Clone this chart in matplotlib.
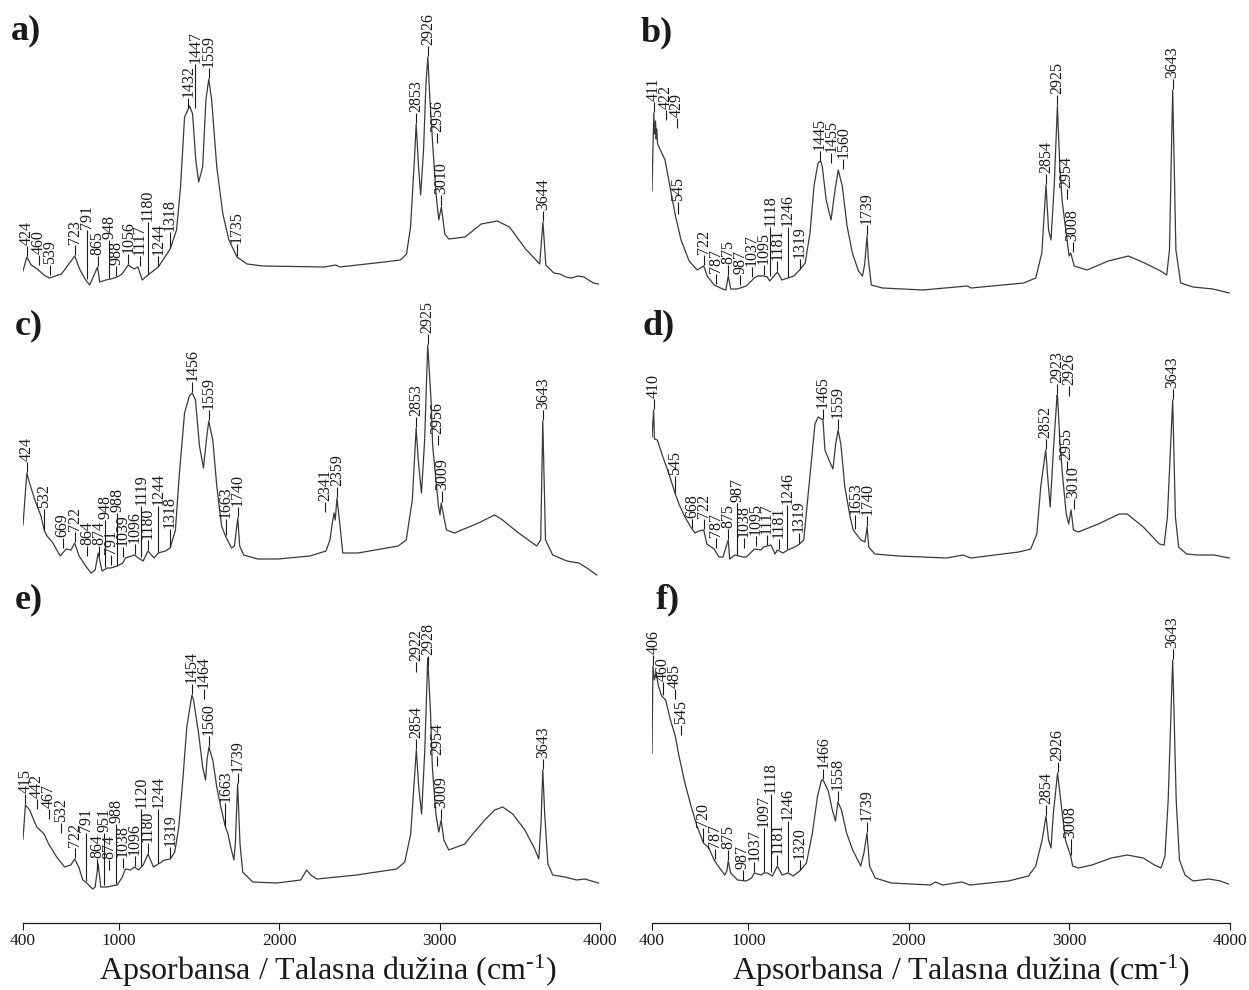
import numpy as np
import matplotlib
matplotlib.use("Agg")
import matplotlib.pyplot as plt

plt.rcParams['font.family'] = 'Liberation Serif'
plt.rcParams['mathtext.fontset'] = 'custom'
plt.rcParams['mathtext.rm'] = 'Liberation Serif'
plt.rcParams['mathtext.it'] = 'Liberation Serif:italic'
plt.rcParams['mathtext.bf'] = 'Liberation Serif:bold'

# ---------------- spectra: wavenumber (cm-1) and relative absorbance ----------------
a_wn = [400, 424, 451, 460, 489, 539, 565, 640, 723, 753, 791, 816, 865, 879, 917, 948, 988, 1018,
        1056, 1093, 1117, 1144, 1180, 1244, 1318, 1358, 1383, 1408, 1440, 1458, 1478, 1496, 1521,
        1541, 1559, 1577, 1609, 1647, 1685, 1735, 1798, 1899, 2277, 2352, 2377, 2654, 2755, 2793,
        2818, 2843, 2853, 2868, 2881, 2899, 2914, 2926, 2939, 2956, 2977, 2994, 3010, 3032, 3057,
        3158, 3259, 3359, 3435, 3536, 3624, 3644, 3662, 3712, 3750, 3787, 3820, 3863, 3900, 3938,
        3960, 3989]
a_abs = [-0.04, 0.10, 0.02, 0.01, -0.02, -0.09, -0.11, -0.07, 0.11, -0.02, -0.13, -0.18, 0.00,
         -0.15, -0.13, -0.12, -0.10, -0.07, 0.02, -0.02, 0.00, -0.13, -0.08, 0.00, 0.18, 0.37, 0.80,
         1.50, 1.61, 1.53, 1.07, 0.85, 1.00, 1.67, 1.88, 1.67, 1.00, 0.53, 0.27, 0.10, 0.03, 0.01,
         0.00, 0.02, 0.00, 0.05, 0.07, 0.13, 0.40, 1.10, 1.43, 1.00, 0.72, 1.17, 1.83, 2.10, 1.67,
         1.23, 0.73, 0.47, 0.60, 0.33, 0.28, 0.30, 0.43, 0.46, 0.40, 0.18, 0.03, 0.45, 0.02, -0.06,
         -0.07, -0.10, -0.11, -0.09, -0.10, -0.14, -0.16, -0.17]
a_peaks = [424, 460, 539, 723, 791, 865, 948, 988, 1056, 1117, 1180, 1244, 1318, 1432, 1447, 1559,
           1735, 2853, 2926, 2956, 3010, 3644]

b_wn = [400, 411, 416, 422, 426, 429, 435, 481, 545, 581, 631, 682, 722, 744, 787, 840, 860, 875,
        890, 930, 987, 1037, 1058, 1095, 1118, 1133, 1181, 1209, 1246, 1284, 1319, 1354, 1384, 1409,
        1434, 1450, 1460, 1485, 1515, 1540, 1560, 1585, 1615, 1648, 1686, 1711, 1725, 1739, 1748,
        1766, 1836, 2087, 2363, 2388, 2715, 2790, 2828, 2854, 2870, 2885, 2905, 2925, 2940, 2954,
        2985, 2998, 3008, 3030, 3110, 3242, 3367, 3468, 3568, 3606, 3623, 3643, 3663, 3693, 3769,
        3894, 3995]
b_abs = [0.98, 1.76, 1.55, 1.68, 1.50, 1.60, 1.45, 1.29, 0.74, 0.49, 0.28, 0.19, 0.23, 0.13, 0.04,
         0.00, -0.01, 0.13, 0.00, 0.00, 0.03, 0.11, 0.13, 0.13, 0.12, 0.08, 0.17, 0.09, 0.11, 0.13,
         0.19, 0.26, 0.56, 1.03, 1.26, 1.28, 1.23, 0.89, 0.69, 0.99, 1.19, 1.03, 0.63, 0.36, 0.18,
         0.13, 0.25, 0.53, 0.29, 0.04, 0.01, -0.01, 0.03, 0.01, 0.06, 0.11, 0.36, 1.04, 0.59, 0.49,
         1.03, 1.83, 1.23, 0.89, 0.49, 0.33, 0.36, 0.23, 0.19, 0.28, 0.33, 0.26, 0.18, 0.14, 0.39,
         1.99, 0.39, 0.06, 0.02, 0.00, -0.04]
b_peaks = [411, 422, 429, 545, 722, 787, 875, 987, 1037, 1095, 1118, 1181, 1246, 1319, 1445, 1455,
           1560, 1739, 2854, 2925, 2954, 3008, 3643]

c_wn = [400, 424, 437, 474, 512, 532, 550, 587, 632, 669, 700, 722, 750, 791, 825, 850, 869, 893,
        925, 948, 988, 1023, 1039, 1096, 1119, 1150, 1180, 1218, 1244, 1288, 1318, 1351, 1376, 1408,
        1438, 1456, 1476, 1501, 1526, 1544, 1559, 1584, 1609, 1639, 1663, 1701, 1719, 1740, 1752,
        1777, 1864, 1990, 2190, 2290, 2315, 2330, 2341, 2348, 2359, 2378, 2395, 2490, 2741, 2791,
        2829, 2853, 2866, 2886, 2906, 2925, 2946, 2956, 2992, 3002, 3009, 3042, 3092, 3242, 3342,
        3392, 3492, 3605, 3630, 3643, 3660, 3705, 3793, 3868, 3918, 3980]
c_abs = [0.33, 0.85, 0.77, 0.58, 0.42, 0.28, 0.22, 0.15, 0.02, 0.09, 0.08, 0.15, 0.02, -0.08,
         -0.15, -0.12, 0.05, -0.13, -0.10, -0.10, -0.08, -0.05, 0.00, 0.03, 0.00, -0.03, 0.07, 0.00,
         0.05, 0.07, 0.10, 0.28, 0.85, 1.45, 1.62, 1.65, 1.58, 1.12, 0.90, 1.18, 1.37, 1.18, 0.72,
         0.32, 0.22, 0.10, 0.12, 0.40, 0.12, 0.03, -0.01, -0.01, 0.02, 0.07, 0.18, 0.35, 0.45, 0.38,
         0.60, 0.32, 0.05, 0.05, 0.12, 0.18, 0.58, 1.30, 0.98, 0.65, 1.18, 2.13, 1.58, 1.12, 0.52,
         0.43, 0.55, 0.28, 0.25, 0.35, 0.43, 0.38, 0.25, 0.12, 0.18, 1.37, 0.18, 0.03, -0.03, -0.05,
         -0.10, -0.17]
c_peaks = [424, 532, 669, 722, 791, 864, 874, 948, 988, 1039, 1096, 1119, 1180, 1244, 1318, 1456,
           1559, 1663, 1740, 2341, 2359, 2853, 2925, 2956, 3009, 3643]

d_wn = [400, 410, 415, 433, 468, 506, 545, 568, 605, 645, 668, 690, 722, 742, 787, 817, 842, 875,
        884, 917, 966, 987, 1038, 1078, 1095, 1117, 1141, 1166, 1181, 1215, 1246, 1290, 1319, 1345,
        1377, 1415, 1435, 1465, 1477, 1502, 1527, 1544, 1559, 1576, 1601, 1634, 1653, 1701, 1726,
        1740, 1750, 1788, 1937, 2236, 2336, 2386, 2684, 2759, 2797, 2821, 2852, 2866, 2880, 2900,
        2923, 2926, 2940, 2955, 2980, 2995, 3010, 3025, 3055, 3180, 3310, 3360, 3460, 3560, 3590,
        3610, 3643, 3660, 3680, 3730, 3800, 3900, 3995]
d_abs = [1.20, 1.47, 1.18, 1.17, 1.00, 0.83, 0.63, 0.53, 0.40, 0.29, 0.24, 0.26, 0.27, 0.13, 0.08,
         0.00, 0.00, 0.17, -0.02, 0.02, 0.00, 0.00, 0.08, 0.07, 0.10, 0.11, 0.12, 0.03, 0.07, 0.04,
         0.07, 0.10, 0.13, 0.17, 0.70, 1.33, 1.40, 1.37, 1.07, 0.97, 0.88, 1.13, 1.27, 1.13, 0.70,
         0.40, 0.27, 0.17, 0.15, 0.30, 0.10, 0.03, 0.01, -0.01, 0.02, -0.01, 0.05, 0.08, 0.23, 0.70,
         1.07, 0.77, 0.50, 1.07, 1.62, 1.60, 1.17, 0.85, 0.43, 0.33, 0.47, 0.27, 0.25, 0.33, 0.43,
         0.43, 0.30, 0.13, 0.12, 0.40, 1.57, 0.40, 0.10, 0.03, 0.02, 0.02, -0.01]
d_peaks = [410, 545, 668, 722, 787, 875, 987, 1038, 1095, 1117, 1181, 1246, 1319, 1465, 1559, 1653,
           1740, 2852, 2923, 2926, 2955, 3010, 3643]

e_wn = [400, 415, 442, 467, 486, 532, 560, 610, 660, 698, 722, 748, 773, 791, 835, 850, 869, 885,
        925, 951, 988, 1020, 1038, 1070, 1096, 1120, 1150, 1180, 1214, 1244, 1284, 1319, 1347, 1372,
        1397, 1422, 1454, 1464, 1496, 1521, 1539, 1548, 1560, 1584, 1609, 1634, 1663, 1679, 1696,
        1716, 1725, 1739, 1754, 1771, 1833, 1983, 2133, 2170, 2195, 2233, 2482, 2732, 2782, 2819,
        2854, 2869, 2887, 2907, 2925, 2942, 2954, 2976, 2994, 3009, 3026, 3056, 3156, 3206, 3281,
        3343, 3393, 3456, 3531, 3593, 3618, 3632, 3643, 3655, 3675, 3705, 3780, 3855, 3905, 3990]
e_abs = [0.44, 0.78, 0.73, 0.63, 0.56, 0.49, 0.39, 0.26, 0.16, 0.18, 0.24, 0.16, 0.03, 0.01, -0.06,
         -0.04, 0.19, -0.04, -0.04, -0.03, -0.02, 0.06, 0.14, 0.13, 0.16, 0.13, 0.18, 0.29, 0.16,
         0.19, 0.23, 0.24, 0.31, 0.56, 1.03, 1.56, 1.88, 1.83, 1.49, 1.16, 1.03, 1.23, 1.36, 1.23,
         0.96, 0.76, 0.56, 0.49, 0.36, 0.23, 0.40, 0.99, 0.39, 0.11, 0.01, 0.00, 0.03, 0.13, 0.08,
         0.04, 0.08, 0.14, 0.21, 0.49, 1.33, 0.96, 0.69, 1.33, 2.25, 1.73, 1.16, 0.69, 0.51, 0.63,
         0.43, 0.33, 0.39, 0.49, 0.63, 0.73, 0.76, 0.69, 0.53, 0.34, 0.24, 0.60, 1.13, 0.69, 0.19,
         0.08, 0.06, 0.03, 0.04, 0.00]
e_peaks = [415, 442, 467, 532, 722, 791, 864, 874, 951, 988, 1038, 1096, 1120, 1180, 1244, 1319,
           1454, 1464, 1560, 1663, 1739, 2854, 2922, 2928, 2954, 3009, 3643]

f_wn = [400, 406, 415, 425, 440, 460, 485, 500, 515, 545, 568, 605, 643, 680, 720, 754, 787, 821,
        853, 866, 875, 890, 933, 987, 1020, 1037, 1080, 1097, 1118, 1150, 1181, 1210, 1246, 1280,
        1320, 1362, 1399, 1431, 1456, 1466, 1498, 1523, 1543, 1558, 1580, 1612, 1650, 1675, 1700,
        1720, 1739, 1755, 1790, 1890, 2135, 2165, 2210, 2330, 2380, 2620, 2745, 2790, 2830, 2854,
        2870, 2885, 2900, 2926, 2950, 2975, 3008, 3020, 3055, 3140, 3260, 3360, 3460, 3530, 3570,
        3595, 3615, 3643, 3665, 3685, 3720, 3770, 3870, 3940, 3990]
f_abs = [1.31, 2.18, 2.04, 2.12, 1.98, 1.88, 1.84, 1.74, 1.64, 1.48, 1.28, 1.01, 0.78, 0.58, 0.41,
         0.36, 0.24, 0.16, 0.09, 0.13, 0.23, 0.11, 0.04, 0.03, 0.06, 0.11, 0.09, 0.11, 0.11, 0.08,
         0.18, 0.09, 0.11, 0.08, 0.13, 0.21, 0.51, 0.88, 1.04, 1.04, 0.93, 0.74, 0.63, 0.82, 0.74,
         0.51, 0.34, 0.26, 0.18, 0.31, 0.51, 0.18, 0.06, 0.01, -0.01, 0.02, -0.01, 0.02, -0.01, 0.03,
         0.08, 0.18, 0.44, 0.68, 0.44, 0.36, 0.71, 1.11, 0.78, 0.44, 0.28, 0.18, 0.16, 0.19, 0.26,
         0.29, 0.26, 0.19, 0.16, 0.28, 0.84, 2.24, 0.84, 0.24, 0.09, 0.03, 0.05, 0.03, 0.00]
f_peaks = [406, 460, 485, 545, 720, 787, 875, 987, 1037, 1097, 1118, 1181, 1246, 1320, 1466, 1558,
           1739, 2854, 2926, 3008, 3643]

panel_names = ["a)", "b)", "c)", "d)", "e)", "f)"]
x_ticks = [400, 1000, 2000, 3000, 4000]
x_label = "Apsorbansa / Talasna dužina (cm$^{\\mathrm{\u2010}1}$)"

# ---------------- layout (pixels) ----------------
W, H = 1249, 990
COLS = [(23, 600), (652, 1230)]
# (column, band top, band bottom, zero-absorbance line)
LAYOUT = [(0, 0, 300, 267), (1, 0, 300, 289),
          (0, 300, 600, 558), (1, 300, 600, 557),
          (0, 600, 923, 883), (1, 600, 923, 884)]
TAGS = [(11, 14), (641, 16), (15, 309), (643, 309), (15, 583), (656, 583)]
PX_PER_UNIT = 100.0            # vertical pixels per absorbance unit
LINE_COLOR = "#3a3a3a"
INK = "#1a1a1a"
LABEL_SIZE = 11.5
DIGIT_PX = 8.0                 # length of one rotated digit
TEXT_DX = 11.5                 # side-by-side spacing of two rotated labels
LEAD_DX = 6.5                  # spacing between a label and a neighbour's leader
GAP = 12.0                     # leader length above the trace
SHIFT_COST = 3.0
RAISE_COST = 0.6

fig = plt.figure(figsize=(W / 100, H / 100), dpi=100)

spectra = [(a_wn, a_abs, a_peaks), (b_wn, b_abs, b_peaks), (c_wn, c_abs, c_peaks),
           (d_wn, d_abs, d_peaks), (e_wn, e_abs, e_peaks), (f_wn, f_abs, f_peaks)]


def annotate_peaks(ax, wn, ab, peaks, width_px):
    """Rotated peak labels standing on short vertical leaders.  Labels of the
    tallest bands are placed first; crowded ones are nudged sideways or lifted."""
    wn = np.asarray(wn, float)
    ab = np.asarray(ab, float)
    px_per_wn = width_px / 3600.0

    def curve_px(w):
        return np.interp(w, wn, ab) * PX_PER_UNIT

    def curve_max_px(xc, half):
        ws = 400 + np.linspace(xc - half, xc + half, 25) / px_per_wn
        return curve_px(ws).max()

    def best_spot(x0, yc, base, length, placed, reach, lead_dx):
        best = None
        for s in np.arange(-reach, reach + 0.01, 0.5):
            x = x0 + s
            if x < 1 or x > width_px - 2:
                continue
            ys = max(curve_px(400 + x / px_per_wn), yc) + 1.0
            yb = max(base, curve_max_px(x, 5.0) + 3.0)
            changed = True
            while changed:
                changed = False
                for (px, ps, pb, pt) in placed:
                    if abs(x - px) < TEXT_DX and yb < pt + 1 and yb + length > pb - 1:
                        yb = pt + 2
                        changed = True
            yt = yb + length
            if any(abs(x - px) < lead_dx and not (yt < ps - 1 or ys > pt + 1)
                   for (px, ps, pb, pt) in placed):
                continue
            cost = SHIFT_COST * abs(s) + RAISE_COST * (yb - base)
            if best is None or cost < best[0]:
                best = (cost, x, ys, yb)
        return best

    order = sorted(peaks, key=lambda p: -curve_px(p))
    placed = []                # (x, leader start, text bottom, text top)
    for p in order:
        x0 = (p - 400) * px_per_wn
        yc = curve_px(p)
        base = yc + GAP
        length = len(str(p)) * DIGIT_PX
        best = None
        for reach, lead_dx in ((25, LEAD_DX), (25, 4.0), (25, 1.5)):
            best = best_spot(x0, yc, base, length, placed, reach, lead_dx)
            if best is not None:
                break
        if best is None:
            top = max([pt for (_, _, _, pt) in placed] + [base])
            best = (0, x0, yc + 1, top + 2)
        _, x, ys, yb = best
        placed.append((x, ys, yb, yb + length))
        w_lab = 400 + x / px_per_wn
        ax.plot([w_lab, w_lab], [ys / PX_PER_UNIT, (yb - 1) / PX_PER_UNIT],
                color=INK, lw=0.8, solid_capstyle='butt')
        ax.text(w_lab, yb / PX_PER_UNIT, str(p), rotation=90, ha='center', va='bottom',
                fontsize=LABEL_SIZE, color=INK)


for i, ((wn, ab, peaks), (col, top, bottom, zero)) in enumerate(zip(spectra, LAYOUT)):
    x0, x1 = COLS[col]
    ax = fig.add_axes([x0 / W, 1 - bottom / H, (x1 - x0) / W, (bottom - top) / H])
    ax.set_xlim(400, 4000)
    ax.set_ylim(-(bottom - zero) / PX_PER_UNIT, (zero - top) / PX_PER_UNIT)
    ax.plot(wn, ab, color=LINE_COLOR, lw=0.9)
    annotate_peaks(ax, wn, ab, peaks, x1 - x0)
    ax.patch.set_visible(False)
    for side in ("left", "right", "top"):
        ax.spines[side].set_visible(False)
    ax.set_yticks([])
    if i >= 4:
        ax.spines["bottom"].set_linewidth(0.9)
        ax.spines["bottom"].set_color(INK)
        ax.set_xticks(x_ticks)
        ax.set_xticklabels([str(t) for t in x_ticks])
        ax.tick_params(axis='x', direction='out', length=5, width=0.8, labelsize=12.5,
                       pad=2, colors=INK)
        ax.set_xlabel(x_label, fontsize=23, color=INK)
        cx = ((328 if col == 0 else 961) - x0) / (x1 - x0)
        ax.xaxis.set_label_coords(cx, -(971 - bottom) / (bottom - top))
        ax.xaxis.label.set_va('center')
    else:
        ax.spines["bottom"].set_visible(False)
        ax.set_xticks([])
    tx, ty = TAGS[i]
    fig.text(tx / W, 1 - ty / H, panel_names[i], fontsize=26, fontweight='bold',
             ha='left', va='top', color=INK)

fig.savefig("out.png", dpi=100)
